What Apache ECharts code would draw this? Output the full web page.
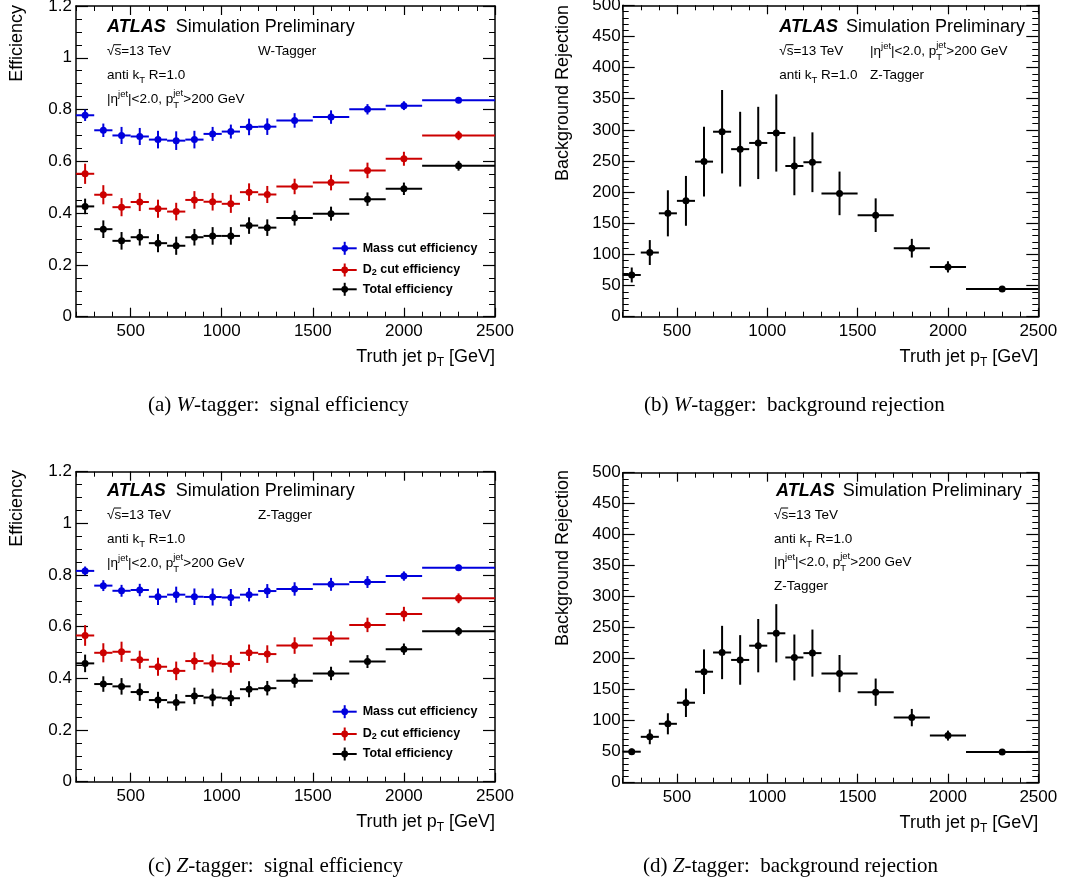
<!DOCTYPE html>
<html><head><meta charset="utf-8">
<script src="https://cdn.jsdelivr.net/npm/echarts@6/dist/echarts.min.js"></script>
<style>html,body{margin:0;padding:0;background:#fff}#c{width:1090px;height:888px}</style>
</head><body><div id="c"></div>
<script>
// ---------------- data ----------------
const binCenters = [250,350,450,550,650,750,850,950,1050,1150,1250,1400,1600,1800,2000,2300];
const binLow     = [200,300,400,500,600,700,800,900,1000,1100,1200,1300,1500,1700,1900,2100];
const binHigh    = [300,400,500,600,700,800,900,1000,1100,1200,1300,1500,1700,1900,2100,2500];
const xTickLabels = [500,1000,1500,2000,2500];

const wMassEff = [0.778,0.720,0.700,0.696,0.684,0.680,0.684,0.706,0.715,0.733,0.734,0.758,0.771,0.801,0.815,0.836];
const wMassErr = [0.022,0.026,0.033,0.033,0.034,0.036,0.034,0.027,0.027,0.032,0.032,0.028,0.026,0.020,0.017,0.011];
const wD2Eff   = [0.552,0.471,0.423,0.443,0.417,0.406,0.451,0.444,0.436,0.481,0.472,0.503,0.518,0.565,0.610,0.700];
const wD2Err   = [0.039,0.037,0.035,0.035,0.035,0.034,0.034,0.034,0.035,0.034,0.033,0.030,0.030,0.030,0.027,0.018];
const wTotEff  = [0.426,0.338,0.293,0.307,0.284,0.274,0.307,0.312,0.312,0.352,0.344,0.381,0.398,0.454,0.494,0.583];
const wTotErr  = [0.030,0.034,0.034,0.032,0.035,0.035,0.032,0.034,0.034,0.032,0.032,0.029,0.027,0.026,0.024,0.019];
const wRej     = [67,103,166,186,249,297,269,279,295,242,248,198,163,110,80,44.5];
const wRejErr  = [12,20,37,40,56,67,60,58,62,47,48,35,27,15,9,3];

const zMassEff = [0.816,0.759,0.739,0.742,0.716,0.724,0.716,0.715,0.713,0.724,0.738,0.746,0.764,0.773,0.796,0.828];
const zMassErr = [0.017,0.021,0.023,0.024,0.032,0.031,0.032,0.033,0.033,0.026,0.027,0.026,0.025,0.023,0.018,0.012];
const zD2Eff   = [0.566,0.499,0.503,0.472,0.445,0.429,0.467,0.458,0.456,0.499,0.494,0.527,0.554,0.607,0.649,0.710];
const zD2Err   = [0.040,0.037,0.039,0.035,0.035,0.036,0.034,0.035,0.034,0.032,0.034,0.032,0.028,0.028,0.028,0.019];
const zTotEff  = [0.458,0.378,0.369,0.347,0.316,0.307,0.332,0.326,0.323,0.358,0.362,0.391,0.419,0.465,0.513,0.582];
const zTotErr  = [0.034,0.030,0.032,0.034,0.032,0.032,0.032,0.034,0.030,0.031,0.028,0.027,0.026,0.025,0.022,0.017];
const zRej     = [50,74,95,129,179,210,198,221,241,202,209,176,146,105,76,49.5];
const zRejErr  = [5,12,17,23,36,43,40,43,47,37,38,30,22,14,8,2];

// ---------------- layout ----------------
const FAM = '"Liberation Sans", Arial, Helvetica, sans-serif';
const SERIF = '"Liberation Serif", "Times New Roman", serif';
const BLUE = '#0000dd', RED = '#cc0000', BLACK = '#000000';
const panels = [
  {l:76,    r:495,    t:6,     b:316.7, ymax:1.2, yint:0.2, ysplit:4, ylm:4},
  {l:622.7, r:1038.3, t:5.3,   b:316.7, ymax:500, yint:50,  ysplit:5, ylm:2},
  {l:76,    r:495,    t:471.7, b:781.7, ymax:1.2, yint:0.2, ysplit:4, ylm:4},
  {l:622.7, r:1038.3, t:472.7, b:782.7, ymax:500, yint:50,  ysplit:5, ylm:2}
];

const ctx = document.createElement('canvas').getContext('2d');
function fnt(s, b, i, fam){ return (i?'italic ':'') + (b?'bold ':'') + s + 'px ' + (fam||FAM); }
function mw(t, f){ ctx.font = f; return ctx.measureText(t).width; }
function txt(x, y, t, f, fill){
  return {type:'text', x:x, y:y, silent:true, z:10,
    style:{text:t, font:f, fill:fill||'#000', textAlign:'left', textVerticalAlign:'middle', align:'left', verticalAlign:'middle'}};
}
function textRun(x, y, parts, align){
  const items = []; let total = 0;
  parts.forEach(p => {
    const f = fnt(p.s, p.b, p.i, p.fam);
    let w = p.stack ? Math.max(mw(p.sup, f), mw(p.sub, f)) : mw(p.t, f);
    w += (p.gap || 0);
    items.push({p, w, f}); total += w;
  });
  let cx = align === 'right' ? x - total : (align === 'center' ? x - total/2 : x);
  const els = [];
  items.forEach(({p, w, f}) => {
    if (p.stack) {
      els.push(txt(cx, y + p.up, p.sup, f));
      els.push(txt(cx, y + p.dn, p.sub, f));
    } else {
      els.push(txt(cx, y + (p.dy||0), p.t, f));
      if (p.over) els.push({type:'line', silent:true, z:10, shape:{x1:cx-0.5, y1:y-p.over, x2:cx+w, y2:y-p.over}, style:{stroke:'#000', lineWidth:1}});
    }
    cx += w;
  });
  return els;
}
const S = 13.5, SS = 9.5;
function atlasLine(x, y, gapStart){
  return textRun(x, y, [{t:'ATLAS', s:18, b:true, i:true, gap:gapStart}, {t:'Simulation Preliminary', s:18}]);
}
function sqrtLine(x, y){ return textRun(x, y, [{t:'√', s:S}, {t:'s', s:S, over:7}, {t:'=13 TeV', s:S}]); }
function antiLine(x, y){ return textRun(x, y, [{t:'anti k', s:S}, {t:'T', s:SS, dy:5}, {t:' R=1.0', s:S}]); }
function etaLine(x, y){
  return textRun(x, y, [{t:'|η', s:S}, {t:'jet', s:SS, dy:-5}, {t:'|<2.0, p', s:S},
    {stack:true, sup:'jet', sub:'T', s:SS, up:-6, dn:6}, {t:'>200 GeV', s:S}]);
}
function xTitle(p){
  return textRun(p.r, p.b + 40, [{t:'Truth jet p', s:18}, {t:'T', s:12, dy:6}, {t:' [GeV]', s:18}], 'right');
}
function yTitle(x, y, t){
  return {type:'text', x:x, y:y, rotation:Math.PI/2, silent:true, z:10,
    style:{text:t, font:fnt(18), fill:'#000', textAlign:'right', textVerticalAlign:'middle', align:'right', verticalAlign:'middle'}};
}
function legendItem(x0, y, color, parts){
  const cx = x0 + 12;
  return [
    {type:'line', silent:true, z:10, shape:{x1:x0, y1:y, x2:x0+24, y2:y}, style:{stroke:color, lineWidth:2}},
    {type:'line', silent:true, z:10, shape:{x1:cx, y1:y-6.5, x2:cx, y2:y+6.5}, style:{stroke:color, lineWidth:2}},
    {type:'circle', silent:true, z:10, shape:{cx:cx, cy:y, r:3.4}, style:{fill:color}}
  ].concat(textRun(x0 + 30, y, parts));
}
function legendBlock(x0, ys){
  return [].concat(
    legendItem(x0, ys[0], BLUE, [{t:'Mass cut efficiency', s:12.5, b:true}]),
    legendItem(x0, ys[1], RED, [{t:'D', s:12.5, b:true}, {t:'2', s:9, b:true, dy:3}, {t:' cut efficiency', s:12.5, b:true}]),
    legendItem(x0, ys[2], BLACK, [{t:'Total efficiency', s:12.5, b:true}])
  );
}
function caption(x, y, letter, tag, rest){
  return textRun(x, y, [{t:'(' + letter + ') ', s:21, fam:SERIF}, {t:tag, s:21, i:true, fam:SERIF}, {t:rest, s:21, fam:SERIF}]);
}

// ---------------- axes ----------------
const grids = [], xAxes = [], yAxes = [];
panels.forEach((p, gi) => {
  grids.push({left:p.l, top:p.t, width:p.r - p.l, height:p.b - p.t, containLabel:false, outerBoundsMode:'none'});
  const base = {gridIndex:gi, type:'value', min:200, max:2500, splitLine:{show:false}};
  ['bottom','top'].forEach(pos => {
    xAxes.push(Object.assign({}, base, {position:pos, interval:100,
      axisLine:{show:true, onZero:false, lineStyle:{color:'#000', width:1.5}},
      axisTick:{show:true, inside:true, length:5, lineStyle:{color:'#000', width:1}},
      axisLabel:pos === 'bottom' ? {show:true, customValues:xTickLabels, formatter:v => String(v), fontSize:17, fontFamily:FAM, color:'#000', margin:6} : {show:false}
    }));
    xAxes.push(Object.assign({}, base, {position:pos,
      axisLine:{show:false, onZero:false},
      axisTick:{show:true, inside:true, length:9, customValues:xTickLabels, lineStyle:{color:'#000', width:1.2}},
      axisLabel:{show:false}
    }));
  });
  ['left','right'].forEach(pos => {
    yAxes.push({gridIndex:gi, type:'value', position:pos, min:0, max:p.ymax, interval:p.yint,
      splitLine:{show:false},
      axisLine:{show:true, onZero:false, lineStyle:{color:'#000', width:1.5}},
      axisTick:{show:true, inside:true, length:12, lineStyle:{color:'#000', width:1.2}},
      minorTick:{show:true, splitNumber:p.ysplit, length:6, lineStyle:{color:'#000', width:1}},
      axisLabel:pos === 'left' ? {show:true, formatter:v => String(+v.toFixed(2)), fontSize:17, fontFamily:FAM, color:'#000', margin:p.ylm} : {show:false}
    });
  });
});

// ---------------- series ----------------
function renderErr(params, api){
  const x = api.value(0), y = api.value(1), lo = api.value(2), hi = api.value(3), e = api.value(4);
  const pL = api.coord([lo, y]), pR = api.coord([hi, y]);
  const pT = api.coord([x, y + e]), pB = api.coord([x, y - e]);
  const c = api.coord([x, y]);
  const color = api.visual('color');
  return {type:'group', children:[
    {type:'line', shape:{x1:pL[0], y1:pL[1], x2:pR[0], y2:pR[1]}, style:{stroke:color, lineWidth:2}},
    {type:'line', shape:{x1:pT[0], y1:pT[1], x2:pB[0], y2:pB[1]}, style:{stroke:color, lineWidth:2}},
    {type:'circle', shape:{cx:c[0], cy:c[1], r:3.5}, style:{fill:color}}
  ]};
}
function errSeries(gi, vals, errs, color){
  return {type:'custom', xAxisIndex:gi*4, yAxisIndex:gi*2, renderItem:renderErr, clip:false, silent:true,
    itemStyle:{color:color}, encode:{x:0, y:1},
    data:binCenters.map((c, i) => [c, vals[i], binLow[i], binHigh[i], errs[i]])};
}
const series = [
  errSeries(0, wMassEff, wMassErr, BLUE), errSeries(0, wD2Eff, wD2Err, RED), errSeries(0, wTotEff, wTotErr, BLACK),
  errSeries(1, wRej, wRejErr, BLACK),
  errSeries(2, zMassEff, zMassErr, BLUE), errSeries(2, zD2Eff, zD2Err, RED), errSeries(2, zTotEff, zTotErr, BLACK),
  errSeries(3, zRej, zRejErr, BLACK)
];

// ---------------- texts ----------------
let g = [];
// panel a
g = g.concat(atlasLine(107, 26.7, 10), sqrtLine(107, 51.7), [txt(258, 51.7, 'W-Tagger', fnt(S))],
  antiLine(107, 75), etaLine(107, 99), legendBlock(332.7, [248.3, 270, 289.3]),
  xTitle(panels[0]), [yTitle(16.7, 5, 'Efficiency')]);
// panel b
g = g.concat(atlasLine(779.3, 26.7, 8), sqrtLine(779.3, 51.7), etaLine(870, 51.7),
  antiLine(779.3, 75), [txt(870, 75, 'Z-Tagger', fnt(S))],
  xTitle(panels[1]), [yTitle(563.3, 5, 'Background Rejection')]);
// panel c
g = g.concat(atlasLine(107, 490.7, 10), sqrtLine(107, 515), [txt(258, 515, 'Z-Tagger', fnt(S))],
  antiLine(107, 539), etaLine(107, 563), legendBlock(332.7, [711.7, 734, 754]),
  xTitle(panels[2]), [yTitle(16.7, 470, 'Efficiency')]);
// panel d
g = g.concat(atlasLine(776, 490.7, 8), sqrtLine(774, 515), antiLine(774, 539), etaLine(774, 562),
  [txt(774, 586.7, 'Z-Tagger', fnt(S))],
  xTitle(panels[3]), [yTitle(563.3, 470, 'Background Rejection')]);
// captions
g = g.concat(caption(148, 405, 'a', 'W', '-tagger:  signal efficiency'),
  caption(644, 405, 'b', 'W', '-tagger:  background rejection'),
  caption(148, 866, 'c', 'Z', '-tagger:  signal efficiency'),
  caption(643, 866, 'd', 'Z', '-tagger:  background rejection'));

const chart = echarts.init(document.getElementById('c'), null, {renderer:'canvas'});
chart.setOption({
  animation:false,
  backgroundColor:'#ffffff',
  textStyle:{fontFamily:FAM},
  grid:grids, xAxis:xAxes, yAxis:yAxes, series:series,
  graphic:{elements:g}
});
</script>
</body></html>
